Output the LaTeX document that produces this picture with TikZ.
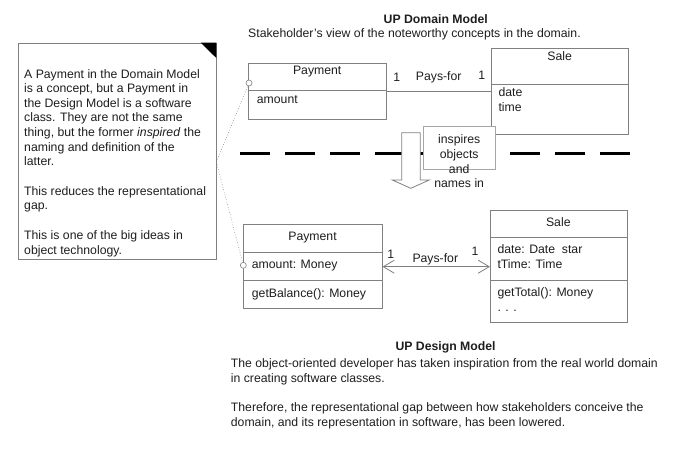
\documentclass[tikz,border=0pt]{standalone}
\usepackage{fontspec}
\setmainfont{Liberation Sans}
\usetikzlibrary{arrows.meta}
\definecolor{ink}{HTML}{1E1E1E}
\definecolor{edge}{HTML}{808080}
\begin{document}
\begin{tikzpicture}[x=1pt,y=-1pt, font=\fontsize{12.25}{14.6}\selectfont, text=ink,
  classbox/.style={draw=edge, line width=0.8pt, fill=white, anchor=north west, inner sep=0},
  divider/.style={draw=edge, line width=0.8pt},
  txt/.style={anchor=base west, inner sep=0},
  ctxt/.style={anchor=base, inner sep=0},
  pin/.style={draw=edge, circle, inner sep=0, minimum size=6pt, fill=white, line width=0.6pt},
  anchorline/.style={draw=edge, dotted, line width=0.6pt},
  assoc/.style={draw=edge, line width=0.8pt},
  navboth/.style={{Straight Barb[length=11pt,width=13pt]}-{Straight Barb[length=11pt,width=13pt]}}
]
\useasboundingbox (0,0) rectangle (687,450);

% titles
\node[ctxt, font=\fontsize{12.25}{14.6}\selectfont\bfseries] (domtitle) at (435.8,23.3) {UP Domain Model};
\node[txt] (domsub) at (248,37) {Stakeholder's view of the noteworthy concepts in the domain.};

% dashed separator
\draw[black, line width=2.6pt, dash pattern=on 30pt off 15pt] (240,153.3) -- (631,153.3);

% note
\node[draw=edge, fill=white, line width=0.8pt, anchor=north west, inner sep=0,
      minimum width=198.3pt, minimum height=216.3pt] (note) at (18,42.7) {};
\fill[black] (200.7,42.7) -- (216.3,42.7) -- (216.3,58) -- cycle;
\node[txt] (n1) at (24,78) {A Payment in the Domain Model};
\node[txt] (n2) at (24,92.6) {is a concept, but a Payment in};
\node[txt] (n3) at (24,107.2) {the Design Model is a software};
\node[txt] (n4) at (24,121.8) {class. They are not the same};
\node[txt] (n5) at (24,136.4) {thing, but the former \textit{inspired} the};
\node[txt] (n6) at (24,151) {naming and definition of the};
\node[txt] (n7) at (24,165.6) {latter.};
\node[txt] (n8) at (24,195.3) {This reduces the representational};
\node[txt] (n9) at (24,209.9) {gap.};
\node[txt] (n10) at (24,239.7) {This is one of the big ideas in};
\node[txt] (n11) at (24,254.3) {object technology.};

% domain model classes
\node[classbox, minimum width=137.7pt, minimum height=55.7pt] (dpay) at (248.3,63.3) {};
\draw[divider] (248.3,90.7) -- (386,90.7);
\node[ctxt] (dpayname) at (317.2,74.7) {Payment};
\node[txt] (dpayattr) at (256.7,103.3) {amount};

\node[classbox, minimum width=137.3pt, minimum height=85.7pt] (dsale) at (491,48.3) {};
\draw[divider] (491,84.3) -- (628.3,84.3);
\node[ctxt] (dsalename) at (559.7,60.3) {Sale};
\node[txt] (dsaleattr1) at (498.3,96) {date};
\node[txt] (dsaleattr2) at (498.3,111) {time};

\draw[assoc] (dpay.east) -- (dsale.west |- dpay.east);
\node[ctxt] (dm1) at (396.7,81.3) {1};
\node[ctxt] (dlabel) at (438.7,80.3) {Pays-for};
\node[ctxt] (dm2) at (481.7,79) {1};

% inspires arrow
\draw[draw=edge, fill=white, line width=0.8pt]
  (401.7,132.7) -- (420.3,132.7) -- (420.3,180) -- (429.3,180) -- (410.8,188.3)
  -- (392.3,180) -- (401.7,180) -- cycle;
\node[draw=edge!70, fill=white, line width=0.6pt, anchor=north west, inner sep=0,
      minimum width=71.7pt, minimum height=43.3pt] (inspbox) at (423.3,126) {};
\node[ctxt] (insp1) at (459.2,143.3) {inspires};
\node[ctxt] (insp2) at (459.2,158.3) {objects};
\node[ctxt] (insp3) at (459.2,173.1) {and};
\node[ctxt] (insp4) at (459.2,187.8) {names in};

% design model classes
\node[classbox, minimum width=138.4pt, minimum height=84pt] (bpay) at (243.3,224.3) {};
\draw[divider] (243.3,252.7) -- (381.7,252.7);
\draw[divider] (243.3,280) -- (381.7,280);
\node[ctxt] (bpayname) at (312.5,240.3) {Payment};
\node[txt] (bpayattr) at (251.7,268.7) {amount: Money};
\node[txt] (bpayop) at (251.7,297) {getBalance(): Money};

\node[classbox, minimum width=136.7pt, minimum height=112.3pt] (bsale) at (490,210) {};
\draw[divider] (490,237.7) -- (626.7,237.7);
\draw[divider] (490,280) -- (626.7,280);
\node[ctxt] (bsalename) at (558.3,226) {Sale};
\node[txt] (bsaleattr1) at (497.3,253.7) {date: Date\ \ star};
\node[txt] (bsaleattr2) at (497.3,268.7) {tTime: Time};
\node[txt] (bsaleop1) at (497.3,296) {getTotal(): Money};
\node[txt] (bsaleop2) at (497.3,311) {. . .};

\draw[assoc, navboth] (bpay.east) -- (bsale.west |- bpay.east);
\node[ctxt] (bm1) at (390.7,258.7) {1};
\node[ctxt] (blabel) at (435.3,262) {Pays-for};
\node[ctxt] (bm2) at (475,255.3) {1};

% note anchors
\coordinate (noteanchor) at (216.3,161.7);
\node[pin] (pin1) at (249,83) {};
\node[pin] (pin2) at (243.3,265.3) {};
\draw[anchorline] (noteanchor) -- (pin1);
\draw[anchorline] (noteanchor) -- (pin2);

% design text
\node[ctxt, font=\fontsize{12.25}{14.6}\selectfont\bfseries] (destitle) at (445.6,350.3) {UP Design Model};
\node[txt] (d1) at (230.7,367) {The object-oriented developer has taken inspiration from the real world domain};
\node[txt] (d2) at (230.7,382) {in creating software classes.};
\node[txt] (d3) at (230.7,411.3) {Therefore, the representational gap between how stakeholders conceive the};
\node[txt] (d4) at (230.7,426) {domain, and its representation in software, has been lowered.};
\end{tikzpicture}
\end{document}
